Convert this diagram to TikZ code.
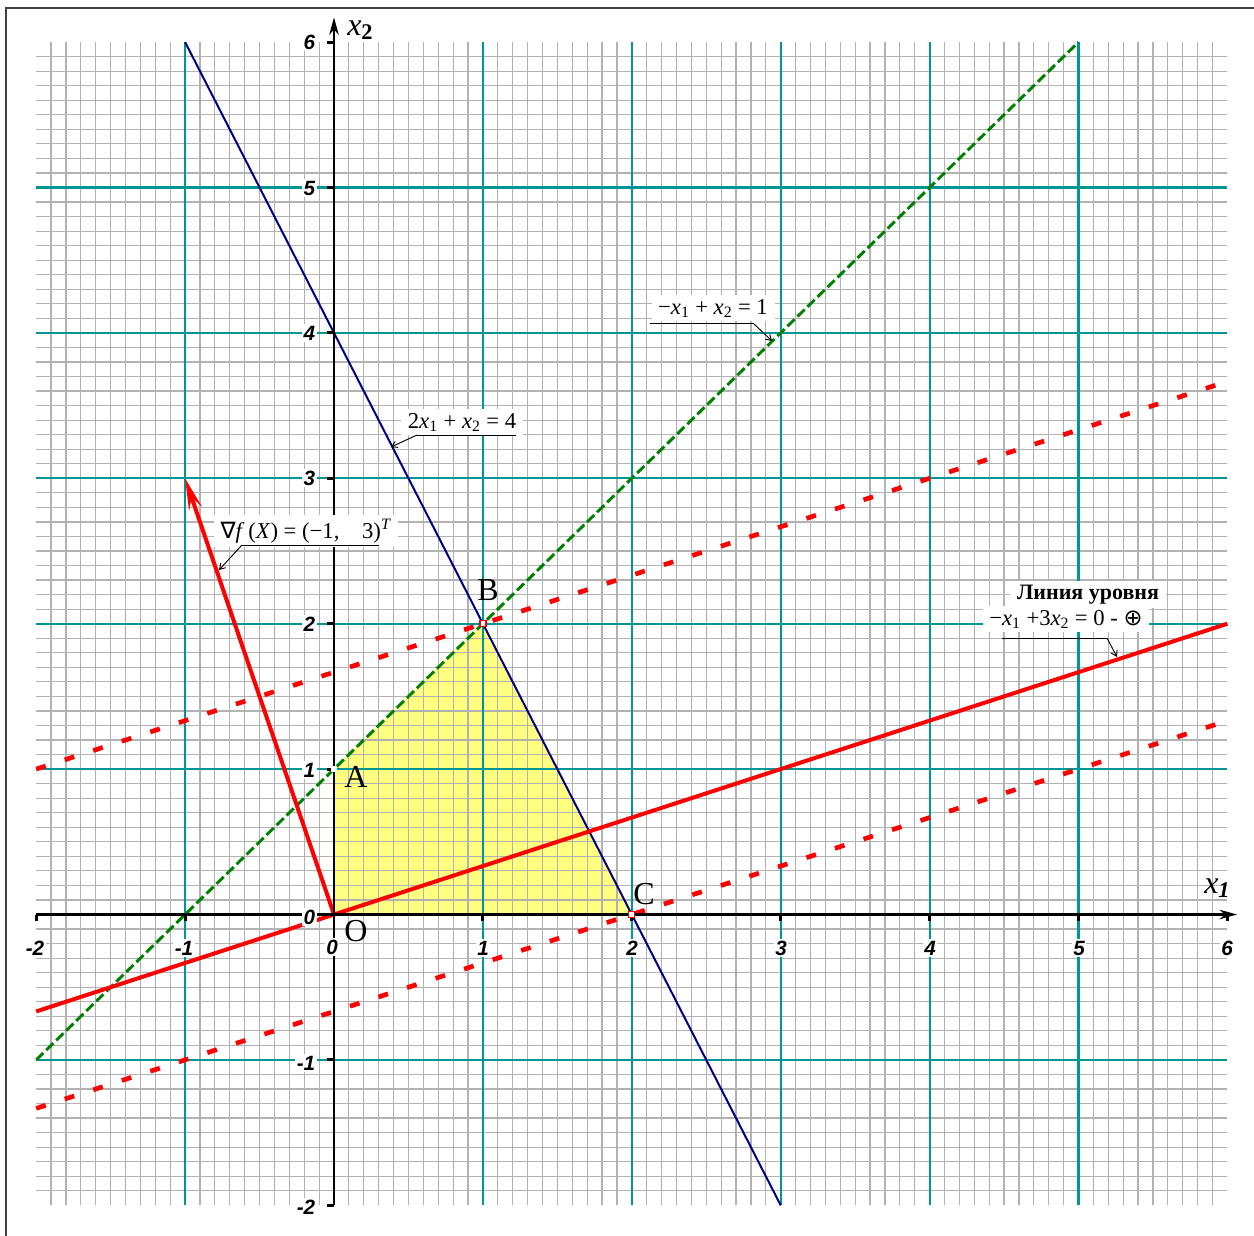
\documentclass[tikz,border=0pt]{standalone}
\usepackage{fontspec}
\setmainfont{Liberation Serif}
\setsansfont{Liberation Sans}
\newfontfamily\symfont{DejaVu Sans}
\usetikzlibrary{arrows.meta}
\definecolor{gridgray}{RGB}{178,178,178}
\definecolor{gridteal}{RGB}{0,150,150}
\definecolor{feas}{RGB}{255,255,128}
\definecolor{navyline}{RGB}{0,0,128}
\definecolor{greenline}{RGB}{0,128,0}
\definecolor{framegray}{RGB}{64,64,64}
\begin{document}
\begin{tikzpicture}[x=0.75pt,y=-0.75pt,
  gridminor/.style={draw=gridgray,line width=0.9pt},
  gridmajor/.style={draw=gridteal,line width=1.6pt},
  axisline/.style={line width=2.2pt,-{Stealth[length=13pt,width=7pt,inset=4pt]}},
  tickmark/.style={line width=2.2pt},
  ticklabel/.style={font=\sffamily\bfseries\itshape\fontsize{15.5}{17}\selectfont,fill=white,inner sep=1.2pt},
  ptlabel/.style={font=\fontsize{24}{27}\selectfont,inner sep=0pt,anchor=base},
  eqlabel/.style={font=\fontsize{17}{20}\selectfont,fill=white,inner xsep=5pt,inner ysep=3pt,anchor=base},
  leader/.style={line width=0.7pt,-{Straight Barb[length=4pt,width=5pt]}},
  underl/.style={line width=0.7pt},
  levelsolid/.style={red,line width=3pt},
  leveldash/.style={red,line width=3.5pt,dash pattern=on 7.5pt off 15pt},
  constrA/.style={navyline,line width=1.5pt},
  constrB/.style={greenline,line width=2.2pt,dash pattern=on 7.5pt off 3pt},
  marker/.style={draw=red,fill=white,line width=0.9pt,minimum size=4.5pt,inner sep=0pt},
  axisname/.style={font=\fontsize{24}{26}\selectfont,inner sep=0pt,anchor=base west}
]
\useasboundingbox (0,0) rectangle (1254,1236);
\fill[white] (0,0) rectangle (1254,1236);
\begin{scope}[shift={(334,914.5)},x=111.675pt,y=109.05pt]
  \coordinate (O) at (0,0);
  \coordinate (A) at (0,1);
  \coordinate (B) at (1,2);
  \coordinate (C) at (2,0);
  \coordinate (G) at (-1,3);
  \coordinate (bl1) at (-1,6);
  \coordinate (bl2) at (3,-2);
  \coordinate (gr1) at (-2,-1);
  \coordinate (gr2) at (5,6);
  \coordinate (rs1) at (-2,-0.66667);
  \coordinate (rs2) at (6,2);
  \coordinate (rb1) at (-2,1);
  \coordinate (rb2) at (6,3.66667);
  \coordinate (rc1) at (-2,-1.33333);
  \coordinate (rc2) at (6,1.33333);
  \coordinate (xa1) at (-2,0);
  \coordinate (xa2) at (6.065,0);
  \coordinate (ya1) at (0,-2);
  \coordinate (ya2) at (0,6.17);
  % feasible region
  \fill[feas] (O) -- (A) -- (B) -- (C) -- cycle;
  % minor grid (tenths, skipping integers)
  \foreach \u in {-2,...,5} {
    \foreach \t in {1,...,9} {
      \draw[gridminor] (\u+\t/10,-2) -- (\u+\t/10,6);
      \draw[gridminor] (-2,\u+\t/10) -- (6,\u+\t/10);
    }
  }
  % major grid
  \foreach \i in {-1,0,1,2,3,4,5} {
    \draw[gridmajor] (\i,-2) -- (\i,6);
    \draw[gridmajor] (-2,\i) -- (6,\i);
  }
  % constraint and level lines
  \draw[constrA] (bl1) -- (bl2);
  \draw[constrB] (gr1) -- (gr2);
  \draw[leveldash] (rb1) -- (rb2);
  \draw[leveldash] (rc1) -- (rc2);
  \draw[levelsolid] (rs1) -- (rs2);
  \draw[red,line width=3pt,-{Stealth[length=24pt,width=10pt,inset=9pt]}] (O) -- (G);
  % axes
  \draw[axisline] (xa1) -- (xa2);
  \draw[axisline] (ya1) -- (ya2);
  \foreach \i in {-2,-1,1,2,3,4,5,6} {\draw[tickmark] (\i,0) -- ++(0pt,-5pt);}
  \foreach \i in {-2,-1,1,2,3,4,5,6} {\draw[tickmark] (0,\i) -- ++(-5pt,0pt);}
  % markers
  \node[marker] (mB) at (B) {};
  \node[marker] (mC) at (C) {};
  \node[fill=white,minimum size=4pt,inner sep=0pt] (mA) at (A) {};
\end{scope}
% frame
\draw[framegray,line width=1.5pt] (5.5,1236) -- (5.5,7.5) -- (1254,7.5);
% tick labels x
\node[ticklabel] (lx-2) at (35,948) {-2};
\node[ticklabel] (lx-1) at (184,948) {-1};
\node[ticklabel] (lx0) at (332,947) {0};
\node[ticklabel] (lx1) at (483,948) {1};
\node[ticklabel] (lx2) at (632,948) {2};
\node[ticklabel] (lx3) at (781,948) {3};
\node[ticklabel] (lx4) at (930,948) {4};
\node[ticklabel] (lx5) at (1079,948) {5};
\node[ticklabel] (lx6) at (1227,948) {6};
% tick labels y
\node[ticklabel,anchor=east] (ly6) at (317,42) {6};
\node[ticklabel,anchor=east] (ly5) at (317,188) {5};
\node[ticklabel,anchor=east] (ly4) at (317,333) {4};
\node[ticklabel,anchor=east] (ly3) at (317,478) {3};
\node[ticklabel,anchor=east] (ly2) at (317,624) {2};
\node[ticklabel,anchor=east] (ly1) at (317,770) {1};
\node[ticklabel,anchor=east] (ly0) at (317,917) {0};
\node[ticklabel,anchor=east] (ly-1) at (317,1063) {-1};
\node[ticklabel,anchor=east] (ly-2) at (317,1207) {-2};
% axis names
\node[axisname] (nx2) at (347,35) {\textit{x}\textsubscript{\textbf{2}}};
\node[axisname] (nx1) at (1204,893) {\textit{x}\textsubscript{\textbf{\textit{1}}}};
% point labels
\node[ptlabel] (lA) at (356,787) {A};
\node[ptlabel] (lB) at (488,600) {B};
\node[ptlabel] (lC) at (644,904) {C};
\node[ptlabel] (lO) at (356,941) {O};
% equation labels with leaders
\node[eqlabel] (e1) at (462,428) {2\textit{x}\textsubscript{1} + \textit{x}\textsubscript{2} = 4};
\coordinate (u1a) at (417,435);
\coordinate (u1b) at (516,435);
\coordinate (t1) at (391,447);
\draw[underl] (u1a) -- (u1b);
\draw[leader] (u1a) -- (t1);

\node[eqlabel] (e2) at (713,314) {−\textit{x}\textsubscript{1} + \textit{x}\textsubscript{2} = 1};
\coordinate (u2a) at (650,323);
\coordinate (u2b) at (753,323);
\coordinate (t2) at (772,341);
\draw[underl] (u2a) -- (u2b);
\draw[leader] (u2b) -- (t2);

\node[eqlabel] (e3) at (306,538) {{\symfont ∇}\textit{f}\,(\textit{X}) = (−1,\quad 3)\textsuperscript{\textit{T}}};
\coordinate (u3a) at (242,545);
\coordinate (u3b) at (379,545);
\coordinate (t3) at (219,570);
\draw[underl] (u3a) -- (u3b);
\draw[leader] (u3a) -- (t3);

\node[eqlabel,font=\bfseries\fontsize{16.5}{19}\selectfont] (e4a) at (1088,599) {Линия уровня};
\node[eqlabel] (e4b) at (1066,625) {−\textit{x}\textsubscript{1} +3\textit{x}\textsubscript{2} = 0 - {\symfont ⊕}};
\coordinate (u4a) at (1002,638);
\coordinate (u4b) at (1107,638);
\coordinate (t4) at (1117,657);
\draw[underl] (u4a) -- (u4b);
\draw[leader] (u4b) -- (t4);
\end{tikzpicture}
\end{document}
